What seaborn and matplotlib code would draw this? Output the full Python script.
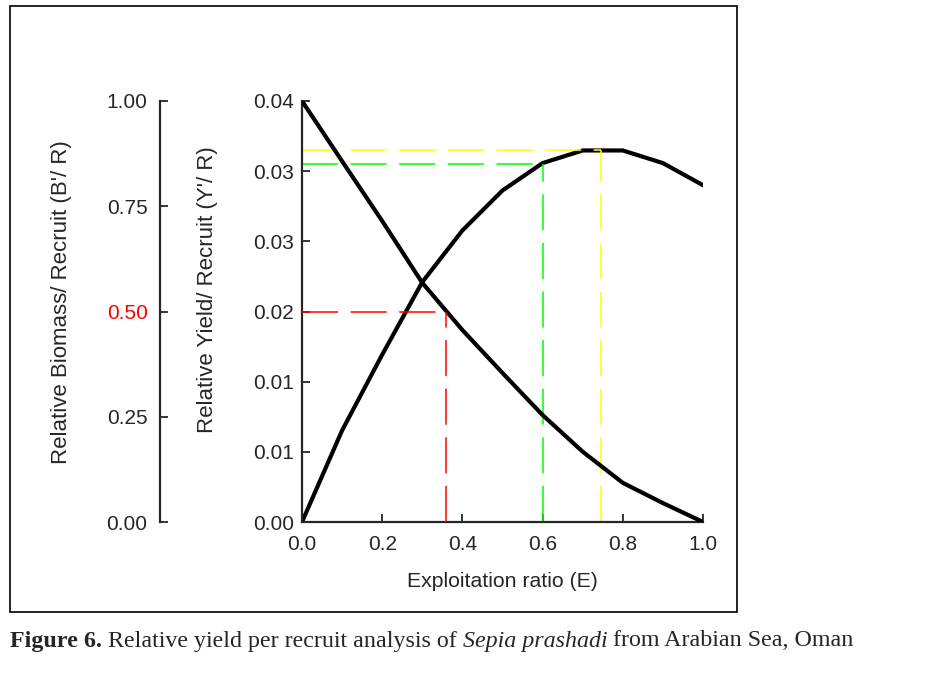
import numpy as np
import pandas as pd
import matplotlib
matplotlib.use("Agg")
import matplotlib.pyplot as plt
import seaborn as sns
from matplotlib.patches import Rectangle


# data
exploitation = [0.0, 0.1, 0.2, 0.3, 0.4, 0.5, 0.6, 0.7, 0.8, 0.9, 1.0]
yield_per_recruit = [0.0, 0.0087, 0.0159, 0.0228, 0.0277, 0.0315, 0.0341, 0.0353, 0.0353, 0.0341, 0.0320]
biomass_per_recruit = [1.0, 0.857, 0.715, 0.568, 0.456, 0.354, 0.254, 0.167, 0.093, 0.045, 0.0]

# reference points (E50, E0.1, Emax)
e50 = 0.36
b50 = 0.50
e01 = 0.60
y01 = 0.0340
emax = 0.746
ymax = 0.0353

yield_ticks = np.linspace(0, 0.04, 7)
biomass_ticks = [0.0, 0.25, 0.5, 0.75, 1.0]
e_ticks = [0.0, 0.2, 0.4, 0.6, 0.8, 1.0]

df = pd.DataFrame({"E": exploitation, "YR": yield_per_recruit, "BR": biomass_per_recruit})

sns.set_style("ticks")
plt.rcParams["font.family"] = ["Liberation Sans", "DejaVu Sans"]

W, H = 949, 679
fig = plt.figure(figsize=(W / 100, H / 100), dpi=100)

# outer frame
fig.patches.append(Rectangle((10 / W, 1 - 612 / H), 727 / W, 606 / H,
                             transform=fig.transFigure, fill=False,
                             edgecolor="black", linewidth=1.2))

ax = fig.add_axes([302 / W, 1 - 522 / H, 401 / W, 421 / H])
axb = ax.twinx()

# curves
sns.lineplot(data=df, x="E", y="YR", ax=ax, color="black", linewidth=3, sort=False)
sns.lineplot(data=df, x="E", y="BR", ax=axb, color="black", linewidth=3, sort=False)

lw = 1.1
dash = (26 / lw, 9 / lw)

def ref_lines(a, xv, yv, col):
    l1, = a.plot([0, xv], [yv, yv], color=col, linewidth=lw)
    l2, = a.plot([xv, xv], [0, yv], color=col, linewidth=lw)
    l1.set_dashes(dash)
    l2.set_dashes(dash)

ref_lines(axb, e50, b50, "#ff0000")
ref_lines(ax, e01, y01, "#00ff00")
ref_lines(ax, emax, ymax, "#ffff00")

# main axes
ax.set_xlim(0, 1)
ax.set_ylim(0, 0.04)
ax.set_xticks(e_ticks)
ax.set_xticklabels([f"{v:.1f}" for v in e_ticks])
ax.set_yticks(yield_ticks)
ax.set_yticklabels([f"{v:.2f}" for v in yield_ticks])
ax.set_xlabel("Exploitation ratio (E)", fontsize=15.3, labelpad=13)
ax.set_ylabel("")
for s in ["top", "right"]:
    ax.spines[s].set_visible(False)
for s in ["left", "bottom"]:
    ax.spines[s].set_linewidth(1.6)
ax.tick_params(direction="in", length=6, width=1.3, labelsize=15, pad=6)
ax.tick_params(axis="x", pad=9)
ax.patch.set_alpha(0)

# biomass axis drawn further left
axb.set_ylim(0, 1)
axb.set_ylabel("")
axb.spines["right"].set_visible(False)
axb.spines["top"].set_visible(False)
axb.spines["bottom"].set_visible(False)
axb.spines["left"].set_visible(True)
axb.spines["left"].set_position(("axes", -142 / 401))
axb.spines["left"].set_linewidth(1.6)
axb.yaxis.set_ticks_position("left")
axb.yaxis.set_label_position("left")
axb.set_yticks(biomass_ticks)
axb.set_yticklabels([f"{v:.2f}" for v in biomass_ticks])
axb.tick_params(axis="y", direction="in", length=6, width=1.3, labelsize=15, pad=9)
axb.get_yticklabels()[2].set_color("#ff0000")
axb.yaxis.get_major_ticks()[2].tick1line.set_color("#ff0000")

fig.text(62 / W, 1 - 302 / H, "Relative Biomass/ Recruit (B'/ R)", rotation=90,
         ha="center", va="center", fontsize=16)
fig.text(207 / W, 1 - 290 / H, "Relative Yield/ Recruit (Y'/ R)", rotation=90,
         ha="center", va="center", fontsize=16)

# caption
serif = ["Liberation Serif", "DejaVu Serif"]
pieces = [("Figure 6.", "bold", "normal"),
          (" Relative yield per recruit analysis of ", "normal", "normal"),
          ("Sepia prashadi", "normal", "italic"),
          (" from Arabian Sea, Oman", "normal", "normal")]
renderer = fig.canvas.get_renderer()
xpos = 10
for txt, wt, st in pieces:
    t = fig.text(xpos / W, 1 - 641 / H, txt, family=serif, fontweight=wt, fontstyle=st,
                 fontsize=17.3, ha="left", va="center")
    xpos += t.get_window_extent(renderer).width

fig.savefig("out.png", dpi=100)
